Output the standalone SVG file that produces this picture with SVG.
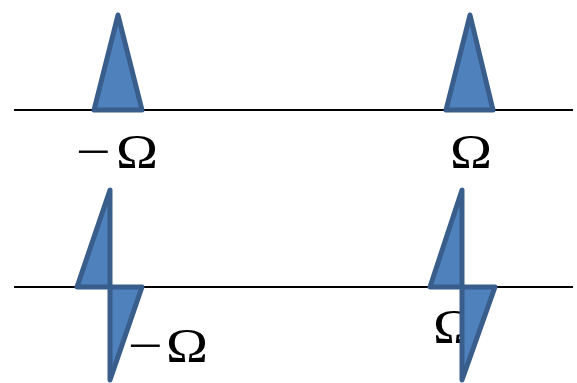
<svg xmlns="http://www.w3.org/2000/svg" width="577" height="383" viewBox="0 0 577 383">
<style>
.ax{stroke:#000;stroke-width:2;fill:none}
.sh{fill:#4F81BD;stroke:#395E8C;stroke-width:5;stroke-linejoin:round}
.lb{font-family:"Liberation Serif",serif;font-size:49px;fill:#000}
</style>
<rect width="577" height="383" fill="#fff"/>
<g id="connectors">
<line class="ax" x1="14" y1="110" x2="573" y2="110"/>
<line class="ax" x1="14" y1="287" x2="573" y2="287"/>
</g>
<g id="label-bottom-right"><text class="lb" x="433" y="343" textLength="42" lengthAdjust="spacingAndGlyphs">Ω</text></g>
<g id="peak-left"><polygon class="sh" points="118,15 94,110 142,110"/></g>
<g id="peak-right"><polygon class="sh" points="470,15 446,110 493,110"/></g>
<g id="label-top-left"><text class="lb" y="168"><tspan x="76" textLength="35" lengthAdjust="spacingAndGlyphs">−</tspan><tspan x="116" textLength="42" lengthAdjust="spacingAndGlyphs">Ω</tspan></text></g>
<g id="label-top-right"><text class="lb" x="450" y="168" textLength="42" lengthAdjust="spacingAndGlyphs">Ω</text></g>
<g id="odd-left">
<polygon class="sh" points="110,190 77,287 110,287"/>
<polygon class="sh" points="110,287 142,287 110,380"/>
</g>
<g id="odd-right">
<polygon class="sh" points="462,190 430,287 462,287"/>
<polygon class="sh" points="462,287 495,287 462,380"/>
</g>
<g id="label-bottom-left"><text class="lb" y="362"><tspan x="128" textLength="35" lengthAdjust="spacingAndGlyphs">−</tspan><tspan x="166" textLength="42" lengthAdjust="spacingAndGlyphs">Ω</tspan></text></g>
</svg>
